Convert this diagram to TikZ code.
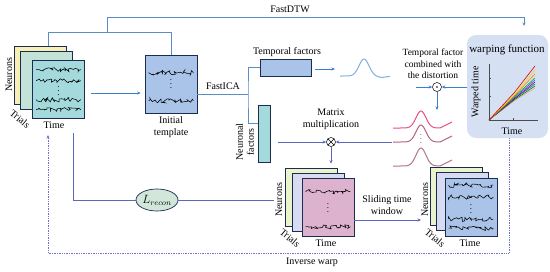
\documentclass[tikz,border=0pt]{standalone}
\usepackage{fontspec}
\setmainfont{Liberation Serif}
\usepackage{xcolor}
\usepackage{tikz}
\usetikzlibrary{arrows.meta, positioning, calc, shapes.geometric, decorations.pathmorphing}

\definecolor{navy}{HTML}{1C2B4F}
\definecolor{arrblue}{HTML}{3C7EC8}
\definecolor{linkblue}{HTML}{5B8CC8}
\definecolor{mulblue}{HTML}{5A66C2}
\definecolor{dotblue}{HTML}{7070D0}
\definecolor{yelsheet}{HTML}{F7F0B4}
\definecolor{greensheet}{HTML}{C3E2D8}
\definecolor{tealsheet}{HTML}{A4DADC}
\definecolor{tmplblue}{HTML}{A9C4E8}
\definecolor{limesheet}{HTML}{EAF4CC}
\definecolor{lavsheet}{HTML}{D8DCF2}
\definecolor{pinksheet}{HTML}{DDB2CE}
\definecolor{warpbg}{HTML}{D5E0F2}
\definecolor{pinkA}{HTML}{E8507C}
\definecolor{pinkB}{HTML}{B0647E}
\definecolor{pinkC}{HTML}{B27488}
\definecolor{curveblue}{HTML}{7DB0DE}
\definecolor{reconfill}{HTML}{D2E6DA}

\tikzset{
  sheet/.style={draw=navy, line width=0.7pt, minimum width=52pt, minimum height=58pt, inner sep=0pt},
  factor/.style={draw=navy, line width=0.7pt, inner sep=0pt},
  trace/.style={black, line width=0.55pt, decorate, decoration={random steps, segment length=1.6pt, amplitude=2.3pt}},
  arr/.style={arrblue, line width=0.6pt, -{Stealth[length=3.5pt,width=3pt]}},
  mularr/.style={mulblue, line width=0.6pt, -{Stealth[length=3.5pt,width=3pt]}},
  link/.style={linkblue, line width=0.7pt},
  dotarr/.style={dotblue, line width=0.7pt, densely dotted, -{Stealth[length=3.5pt,width=3pt]}},
  opnode/.style={circle, draw, line width=0.5pt, minimum size=9pt, inner sep=0pt},
  slant/.style={rotate=-40, inner sep=1pt},
}

\begin{document}
\begin{tikzpicture}[x=1pt, y=-1pt, font=\fontsize{10}{12}\selectfont]
\pgfmathsetseed{11}
\useasboundingbox (0,0) rectangle (550,271);

% raw data stack
\node[sheet, fill=yelsheet] (rawA) at (40,75) {};
\node[sheet, fill=greensheet] (rawB) at (46.5,80.5) {};
\node[sheet, fill=tealsheet] (rawC) at (58.5,89) {};
\foreach \ty in {10,21,40,50}
  \draw[trace] ($(rawC.north west)+(4,\ty)$) -- ($(rawC.north east)+(-4,\ty)$);
\node[font=\small] (rawD) at (58.5,88) {$\vdots$};
\node[rotate=90, inner sep=1pt] (rawN) at (9,75) {Neurons};
\node[slant] (rawR) at (20,119) {Trials};
\node (rawT) at (54,125) {Time};

% initial template
\node[sheet, fill=tmplblue] (tmpl) at (171,84) {};
\foreach \ty in {18,46}
  \draw[trace] ($(tmpl.north west)+(4,\ty)$) -- ($(tmpl.north east)+(-4,\ty)$);
\node[font=\small] (tmplD) at (171,81) {$\vdots$};
\node[align=center] (tmplL) at (171,127) {Initial\\template};
\draw[arr, shorten >=4pt] ([xshift=6pt]rawC.east |- 0,93) -- (tmpl.west |- 0,93);

% FastDTW bracket
\coordinate (dtwA) at (48,32);
\coordinate (dtwB) at (107,32);
\coordinate (dtwEnd) at (524,26);
\draw[link] (rawA.north -| dtwA) -- (dtwA) -- (tmpl.north |- dtwA) -- (tmpl.north);
\draw[link, -{Stealth[length=3.5pt,width=3pt]}] (dtwB) -- (dtwB |- 0,17) -| (dtwEnd);
\node (dtwL) at (290,9) {FastDTW};

% FastICA factors
\node[factor, fill=tmplblue, minimum width=51pt, minimum height=17pt] (tfac) at (285.5,67.5) {};
\node[factor, fill=tealsheet, minimum width=12pt, minimum height=57pt] (nfac) at (264,133.5) {};
\node (tfacL) at (287,52) {Temporal factors};
\node[rotate=90, align=center, font=\fontsize{10}{11}\selectfont] (nfacL) at (245,142) {Neuronal\\factors};
\coordinate (icaJ) at (248,94);
\node (icaL) at (223,86) {FastICA};
\draw[link] (tmpl.east |- icaJ) -- (icaJ);
\draw[link] (tfac.west) -| (icaJ) -- (icaJ |- 0,123) -- (nfac.west |- 0,123);

% temporal factor curve
\coordinate (tcurve) at (335,69);
\draw[arr] ([xshift=4pt]tfac.east |- tcurve) -- (tcurve);
\draw[curveblue, line width=1pt] plot[domain=340:390, samples=60, smooth]
  (\x, {76 - 17*exp(-((\x-364)/7)^2) + 0.15*max(0,min(\x-372,10)) - 0.15*max(0,\x-382)});

% odot
\node[opnode, path picture={\fill (path picture bounding box.center) circle (0.9pt);}] (odot) at (437,87) {};
\node[align=center, font=\fontsize{9.5}{11.5}\selectfont] (combL) at (433,64) {Temporal factor\\combined with\\the distortion};
\draw[arr] ([xshift=-16pt]odot.west) -- (odot.west);
\coordinate (pinkTop) at (437,110);
\draw[arr] (odot.south) -- (pinkTop);

% distorted temporal curves
\foreach \b/\h/\c in {128/17/pinkA, 142/17/pinkB, 166/18/pinkC}
  \draw[\c, line width=1pt] plot[domain=393:452, samples=70, smooth]
    (\x, {\b - \h*exp(-((\x-421)/7)^2) - 0.5*max(0,\x-440)});
\node[font=\scriptsize] (pinkD) at (421,136) {$\vdots$};

% warping function
\node[fill=warpbg, rounded corners=9pt, minimum width=81pt, minimum height=103pt] (warp) at (507.5,86.5) {};
\node[font=\fontsize{11}{13}\selectfont] (warpT) at (507,50) {warping function};
\draw[arr] (warp.west |- odot) -- (odot.east);
\coordinate (orig) at (489,120);
\foreach \c/\m/\e in {pink!80!red/101/88, green!50!black/100/86, teal/99/84, violet/99/82,
    blue!70/98/80, green!70!black/97/78, orange/96/74, yellow!70!orange/95/70, red!85!black/93/66}
  \draw[\c, line width=0.6pt] (orig) -- (514,\m) -- (535,\e);
\draw[gray!60!black, line width=0.4pt] (489,64) -- (orig) -- (538,120);
\foreach \ty in {78,96}
  \draw[gray!60!black, line width=0.4pt] (489,\ty) -- (491,\ty);
\draw[gray!60!black, line width=0.4pt] (513,120) -- (513,118);
\node[rotate=90] (warpY) at (476,92) {Warped time};
\node (warpX) at (512,131) {Time};

% matrix multiplication
\node[opnode, path picture={
  \draw (path picture bounding box.north west) -- (path picture bounding box.south east)
        (path picture bounding box.north east) -- (path picture bounding box.south west);}] (otimes) at (331,142) {};
\node[align=center] (mulL) at (331,119) {Matrix\\multiplication};
\draw[mularr] ([xshift=8pt]nfac.east |- otimes) -- (otimes.west);
\coordinate (pinkL) at (392,142);
\draw[mularr] (pinkL) -- (otimes.east);

% reconstructed stack
\node[sheet, fill=limesheet] (recA) at (311,197) {};
\node[sheet, fill=lavsheet] (recB) at (318.5,202) {};
\node[sheet, fill=pinksheet] (recC) at (328,207) {};
\foreach \ty in {14,49}
  \draw[trace] ($(recC.north west)+(4,\ty)$) -- ($(recC.north east)+(-4,\ty)$);
\node[font=\small] (recD) at (328,205) {$\vdots$};
\node[rotate=90, inner sep=1pt] (recN) at (279,200) {Neurons};
\node[slant] (recR) at (290,238) {Trials};
\node (recT) at (326,243) {Time};
\draw[mularr, shorten >=4pt] (otimes.south) -- (otimes.south |- recA.north);

% aligned stack
\node[sheet, fill=limesheet] (alnA) at (456.5,196) {};
\node[sheet, fill=lavsheet] (alnB) at (462,201) {};
\node[sheet, fill=tmplblue] (alnC) at (471,207.5) {};
\foreach \ty in {7,19,41,50}
  \draw[trace] ($(alnC.north west)+(4,\ty)$) -- ($(alnC.north east)+(-4,\ty)$);
\node[font=\small] (alnD) at (471,206) {$\vdots$};
\node[rotate=90, inner sep=1pt] (alnN) at (425,200) {Neurons};
\node[slant] (alnR) at (435,238) {Trials};
\node (alnT) at (470,243) {Time};
\node[align=center] (slideL) at (387,205) {Sliding time\\window};
\coordinate (slideEnd) at (421,220);
\draw[mularr] (recC.east |- slideEnd) -- (slideEnd);

% reconstruction loss
\node[ellipse, draw=navy, line width=0.7pt, fill=reconfill, minimum width=42pt, minimum height=22pt, inner sep=0pt] (lrec) at (157,200) {\large$L_{recon}$};
\coordinate (recTop) at (73,133);
\draw[mulblue, line width=0.6pt] (recTop) |- (lrec.west);
\draw[mulblue, line width=0.6pt] (lrec.east) -- (recN.north |- lrec.east);

% inverse warp
\coordinate (invR) at (509,253);
\coordinate (invL) at (48,253);
\coordinate (invUp) at (48,135);
\draw[dotarr] (warp.south -| invR) -- (invR) -- (invL) -- (invUp);
\node (invLbl) at (312,262) {Inverse warp};
\end{tikzpicture}
\end{document}
